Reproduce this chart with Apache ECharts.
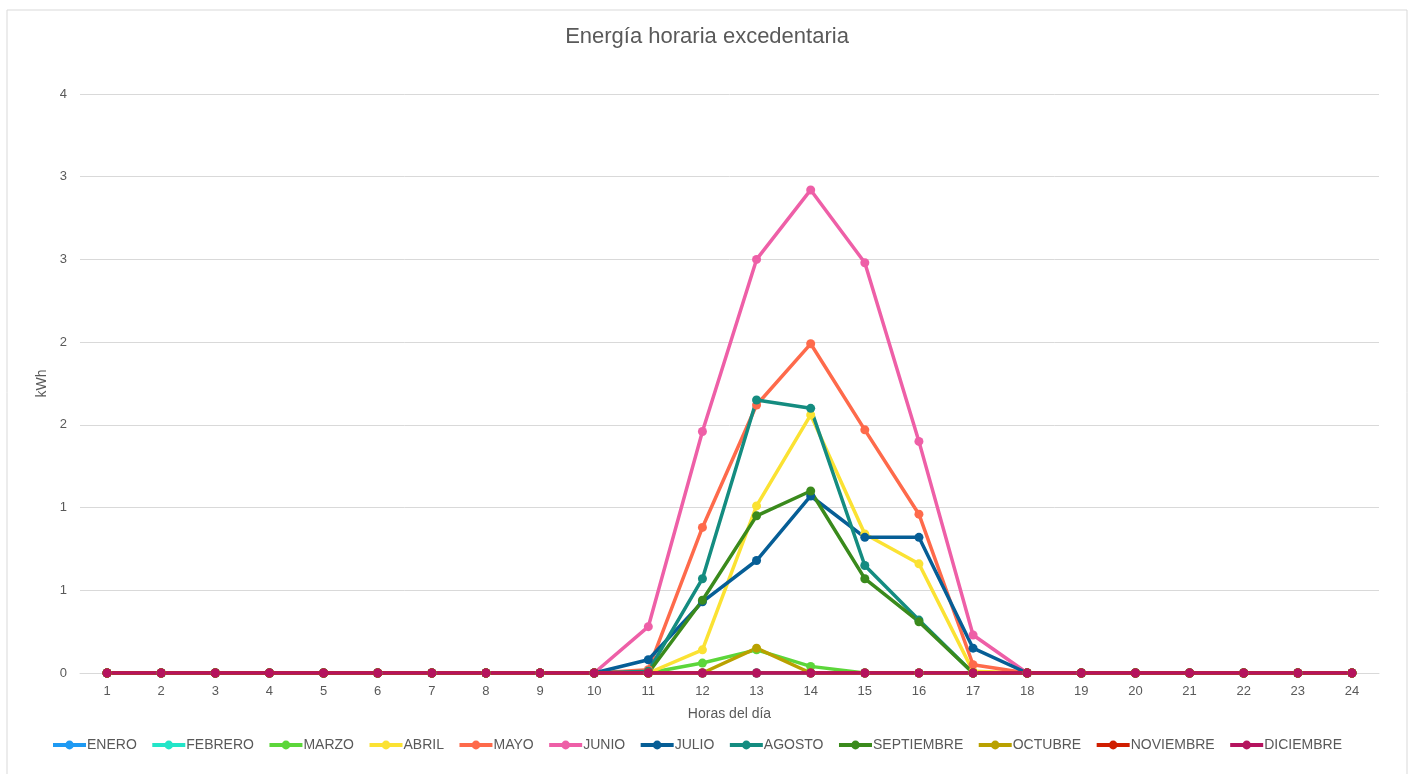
<!DOCTYPE html>
<html>
<head>
<meta charset="utf-8">
<script src="https://cdn.jsdelivr.net/npm/echarts@6/dist/echarts.min.js"></script>
<style>
html,body{margin:0;padding:0;background:#fff;}
#chart{width:1414px;height:774px;}
</style>
</head>
<body>
<div id="chart"></div>
<script>
const hours = ['1','2','3','4','5','6','7','8','9','10','11','12','13','14','15','16','17','18','19','20','21','22','23','24'];
const yTickLabels = ['0','1','1','2','2','3','3','4'];
const monthNames = ['ENERO','FEBRERO','MARZO','ABRIL','MAYO','JUNIO','JULIO','AGOSTO','SEPTIEMBRE','OCTUBRE','NOVIEMBRE','DICIEMBRE'];
const monthColors = ['#1E9AF3','#22E5C8','#5CD63A','#FBE233','#FE6A4B','#EE5FA7','#065E96','#148C80','#3A8A1C','#B9A100','#D01E00','#B5135E'];

const enero      = [0,0,0,0,0,0,0,0,0,0,0,0,0,0,0,0,0,0,0,0,0,0,0,0];
const febrero    = [0,0,0,0,0,0,0,0,0,0,0,0,0,0,0,0,0,0,0,0,0,0,0,0];
const marzo      = [0,0,0,0,0,0,0,0,0,0,0,0.06,0.14,0.04,0,0,0,0,0,0,0,0,0,0];
const abril      = [0,0,0,0,0,0,0,0,0,0,0,0.14,1.01,1.56,0.84,0.66,0.01,0,0,0,0,0,0,0];
const mayo       = [0,0,0,0,0,0,0,0,0,0,0.02,0.88,1.62,1.99,1.47,0.96,0.05,0,0,0,0,0,0,0];
const junio      = [0,0,0,0,0,0,0,0,0,0,0.28,1.46,2.50,2.92,2.48,1.40,0.23,0,0,0,0,0,0,0];
const julio      = [0,0,0,0,0,0,0,0,0,0,0.08,0.43,0.68,1.07,0.82,0.82,0.15,0,0,0,0,0,0,0];
const agosto     = [0,0,0,0,0,0,0,0,0,0,0.01,0.57,1.65,1.60,0.65,0.32,0,0,0,0,0,0,0,0];
const septiembre = [0,0,0,0,0,0,0,0,0,0,0,0.44,0.95,1.10,0.57,0.31,0,0,0,0,0,0,0,0];
const octubre    = [0,0,0,0,0,0,0,0,0,0,0,0,0.15,0,0,0,0,0,0,0,0,0,0,0];
const noviembre  = [0,0,0,0,0,0,0,0,0,0,0,0,0,0,0,0,0,0,0,0,0,0,0,0];
const diciembre  = [0,0,0,0,0,0,0,0,0,0,0,0,0,0,0,0,0,0,0,0,0,0,0,0];

const monthData = [enero,febrero,marzo,abril,mayo,junio,julio,agosto,septiembre,octubre,noviembre,diciembre];

const textColor = '#595959';
const font = 'Liberation Sans, Arial, sans-serif';

const chart = echarts.init(document.getElementById('chart'), null, {renderer:'canvas'});
const series = monthNames.map((name,i)=>({
  name: name,
  type: 'line',
  data: monthData[i],
  symbol: 'circle',
  symbolSize: 9,
  showSymbol: true,
  lineStyle: {width: 3.5, color: monthColors[i]},
  itemStyle: {color: monthColors[i]},
  emphasis: {disabled: true},
  animation: false
}));

chart.setOption({
  animation: false,
  backgroundColor: '#ffffff',
  color: monthColors,
  title: {
    text: 'Energía horaria excedentaria',
    left: 'center',
    top: 21,
    textStyle: {color: textColor, fontSize: 22, fontWeight: 'normal', fontFamily: font}
  },
  graphic: [{
    type: 'rect',
    shape: {x: 7, y: 10, width: 1400, height: 780},
    style: {fill: 'none', stroke: '#d9d9d9', lineWidth: 1},
    silent: true,
    z: -10
  }],
  legend: {
    top: 733,
    left: 46,
    itemWidth: 33,
    itemHeight: 11,
    itemGap: 13.5,
    lineStyle: {width: 4},
    textStyle: {color: textColor, fontSize: 14, fontFamily: font, padding: [0,0,0,-4]},
    data: monthNames
  },
  grid: {left: 80, right: 35, top: 94, bottom: 101, containLabel: false},
  xAxis: {
    type: 'category',
    data: hours,
    boundaryGap: true,
    name: 'Horas del día',
    nameLocation: 'middle',
    nameGap: 34,
    nameTextStyle: {color: textColor, fontSize: 14, fontFamily: font},
    axisLine: {show: true, lineStyle: {color: '#d9d9d9', width: 1}},
    axisTick: {show: false},
    axisLabel: {color: textColor, fontSize: 13, fontFamily: font, margin: 12},
    splitLine: {show: false}
  },
  yAxis: {
    type: 'value',
    min: 0,
    max: 3.5,
    interval: 0.5,
    name: 'kWh',
    nameLocation: 'middle',
    nameGap: 28,
    nameRotate: 90,
    nameTextStyle: {color: textColor, fontSize: 14, fontFamily: font},
    axisLine: {show: false},
    axisTick: {show: false},
    axisLabel: {
      color: textColor, fontSize: 13, fontFamily: font, margin: 13,
      formatter: v => yTickLabels[Math.round(v / 0.5)]
    },
    splitLine: {show: true, lineStyle: {color: '#d9d9d9', width: 1}}
  },
  series: series
});
</script>
</body>
</html>
